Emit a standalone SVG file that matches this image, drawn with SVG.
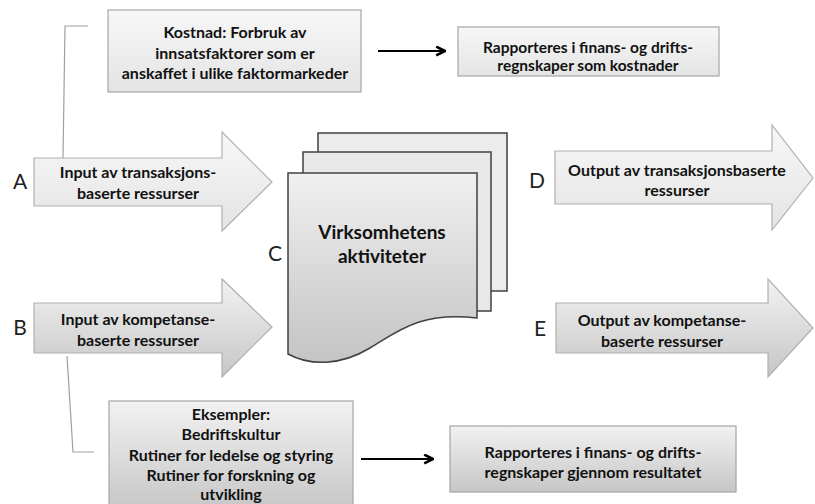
<svg xmlns="http://www.w3.org/2000/svg" width="815" height="504" viewBox="0 0 815 504">
<defs>
<linearGradient id="gLight" x1="0" y1="0" x2="0" y2="1"><stop offset="0" stop-color="#f7f7f7"/><stop offset="1" stop-color="#e4e4e4"/></linearGradient>
<linearGradient id="gDark" x1="0" y1="0" x2="0" y2="1"><stop offset="0" stop-color="#f2f2f2"/><stop offset="1" stop-color="#c6c6c6"/></linearGradient>
<linearGradient id="gDoc" x1="0" y1="0" x2="0" y2="1"><stop offset="0" stop-color="#f0f0f0"/><stop offset="1" stop-color="#c4c4c4"/></linearGradient>
<marker id="ah" viewBox="0 0 10 10" refX="9" refY="5" markerWidth="11" markerHeight="11" markerUnits="userSpaceOnUse" orient="auto"><path d="M1,1 L9,5 L1,9" fill="none" stroke="#000" stroke-width="2.4"/></marker>
</defs>
<style>
.box{stroke:#a6a6a6;stroke-width:1.2}
.arr{stroke:#b0b0b0;stroke-width:1.2}
.doc{stroke:#404040;stroke-width:1.5}
.t{font-family:Lato,"Liberation Sans",sans-serif;font-weight:bold;font-size:16px;fill:#111;text-anchor:middle}
.ts{font-size:15.5px}
.big{font-family:Lato,"Liberation Sans",sans-serif;font-weight:bold;font-size:19px;fill:#111;text-anchor:middle}
.lab{font-family:Lato,"Liberation Sans",sans-serif;font-size:21px;fill:#222;text-anchor:middle}
.br{fill:none;stroke:#a0a0a0;stroke-width:1.2}
.con{fill:none;stroke:#000;stroke-width:2.2}
</style>

<g id="connectors">
<path class="br" d="M88,26 L65,26 L63,158"/>
<path class="br" d="M67,356 L73,452 L94,452"/>
<line class="con" x1="378" y1="51" x2="445" y2="51" marker-end="url(#ah)"/>
<line class="con" x1="361" y1="459" x2="433" y2="459" marker-end="url(#ah)"/>
</g>

<g id="cost-box">
<rect class="box" x="108" y="10" width="253" height="82" fill="url(#gLight)"/>
<text class="t" x="235" y="38">Kostnad: Forbruk av</text>
<text class="t" x="235" y="58.5">innsatsfaktorer som er</text>
<text class="t" x="235" y="78.5">anskaffet i ulike faktormarkeder</text>
</g>

<g id="report-cost">
<rect class="box" x="458" y="27" width="261" height="49" fill="url(#gLight)"/>
<text class="t ts" x="588" y="52.5">Rapporteres i finans- og drifts-</text>
<text class="t ts" x="588" y="70.5">regnskaper som kostnader</text>
</g>

<g id="arrow-A">
<path class="arr" d="M34,158 L222,158 L222,132 L272,182 L222,231 L222,206 L34,206 Z" fill="url(#gLight)"/>
<text class="t" x="138" y="177.5">Input av transaksjons-</text>
<text class="t" x="138" y="198.5">baserte ressurser</text>
<text class="lab" x="20" y="189">A</text>
</g>

<g id="arrow-B">
<path class="arr" d="M34,303 L222,303 L222,279 L272,327 L222,377 L222,353 L34,353 Z" fill="url(#gDark)"/>
<text class="t" x="138" y="324.5">Input av kompetanse-</text>
<text class="t" x="138" y="345.5">baserte ressurser</text>
<text class="lab" x="20" y="335">B</text>
</g>

<g id="activities">
<rect class="doc" x="318" y="133" width="189" height="158" fill="#ececec"/>
<rect class="doc" x="303" y="152" width="188" height="159" fill="#e8e8e8"/>
<path class="doc" d="M288,173 L477,173 L477,318 C420,312 400,330 370,348 C340,366 310,366 288,354 Z" fill="url(#gDoc)"/>
<text class="big" x="382" y="239">Virksomhetens</text>
<text class="big" x="382" y="263">aktiviteter</text>
<text class="lab" x="275" y="261">C</text>
</g>

<g id="arrow-D">
<path class="arr" d="M555,151 L772,151 L772,125 L813,178 L772,230 L772,204 L555,204 Z" fill="url(#gLight)"/>
<text class="t" x="677" y="175.5">Output av transaksjonsbaserte</text>
<text class="t" x="677" y="195.5">ressurser</text>
<text class="lab" x="537" y="188">D</text>
</g>

<g id="arrow-E">
<path class="arr" d="M556,303 L768,303 L768,279 L813,328 L768,377 L768,353 L556,353 Z" fill="url(#gDark)"/>
<text class="t" x="662" y="325.5">Output av kompetanse-</text>
<text class="t" x="662" y="346.5">baserte ressurser</text>
<text class="lab" x="540" y="336">E</text>
</g>

<g id="examples-box">
<rect class="box" x="109" y="401" width="244" height="110" fill="url(#gDark)"/>
<text class="t" x="231" y="420">Eksempler:</text>
<text class="t" x="231" y="440">Bedriftskultur</text>
<text class="t" x="231" y="460.5">Rutiner for ledelse og styring</text>
<text class="t" x="231" y="480.5">Rutiner for forskning og</text>
<text class="t" x="231" y="500">utvikling</text>
</g>

<g id="report-result">
<rect class="box" x="450" y="426" width="286" height="66" fill="url(#gDark)"/>
<text class="t" x="593" y="457.5">Rapporteres i finans- og drifts-</text>
<text class="t" x="593" y="477.5">regnskaper gjennom resultatet</text>
</g>
</svg>
